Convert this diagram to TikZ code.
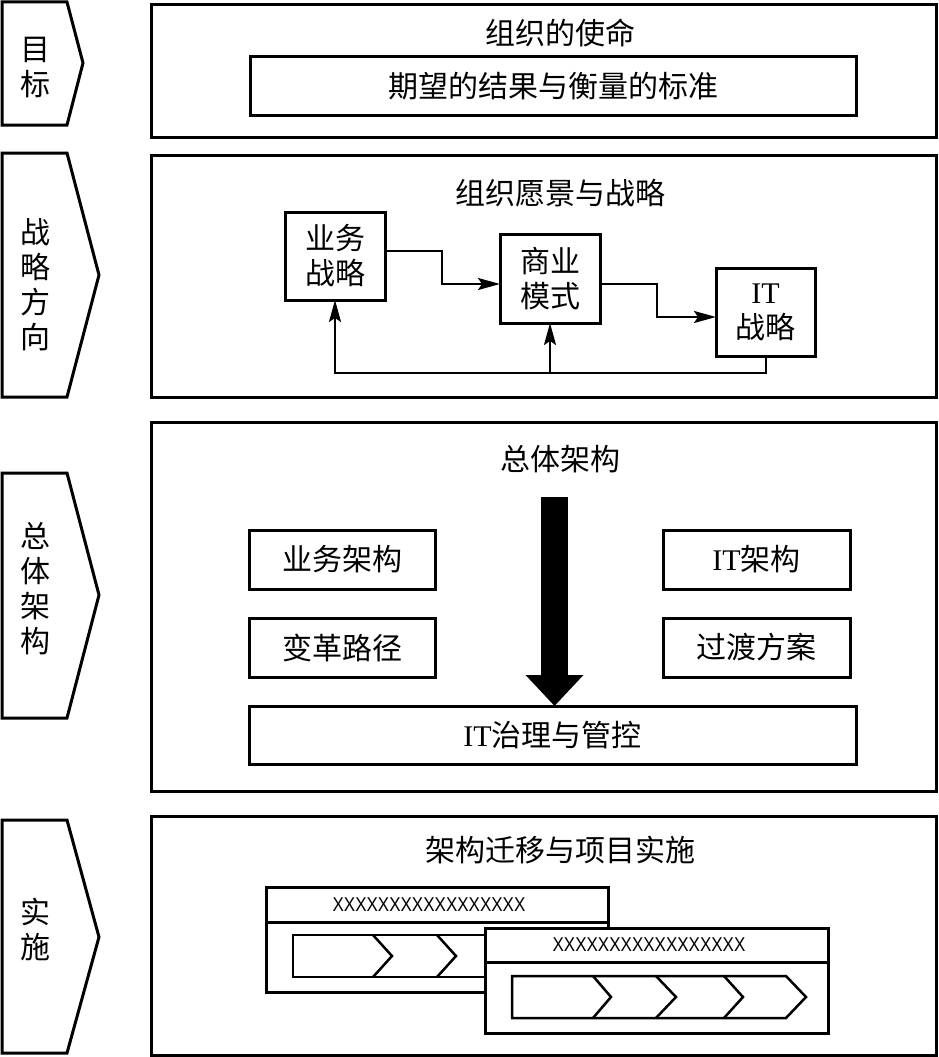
\documentclass[tikz,border=0pt]{standalone}
\usepackage{fontspec}
\setmainfont{Liberation Serif}
\newfontfamily\cjk{Noto Sans CJK SC}
\newfontfamily\xfont[FakeStretch=0.85]{Liberation Sans}
\usetikzlibrary{arrows.meta}
\begin{document}
\begin{tikzpicture}[x=1pt,y=-1pt,
  frame/.style={draw, line width=3pt, inner sep=0pt, outer sep=0pt},
  chev/.style={draw, line width=3pt, line join=miter},
  lbl/.style={font=\cjk\fontsize{30}{35}\selectfont, align=center, inner sep=0pt},
  txt/.style={font=\cjk\fontsize{30}{35}\selectfont, inner sep=0pt},
  xtxt/.style={font=\xfont\fontsize{20}{20}\selectfont, inner sep=0pt},
  conn/.style={line width=2pt, -{Stealth[length=22pt,width=12pt,inset=4pt]}},
  bar/.style={draw, line width=2.5pt, line join=miter},
  ]
\useasboundingbox (0,0) rectangle (938,1057);
\fill[white] (0,0) rectangle (938,1057);

% ---------- left chevrons ----------
\draw[chev] (2,2) -- (67,2) -- (83,63) -- (67,125) -- (2,125) -- cycle;
\node[lbl] (c1) at (35,68) {目\\标};
\draw[chev] (2,153) -- (67,153) -- (99,275) -- (67,397) -- (2,397) -- cycle;
\node[lbl] (c2) at (35,285) {战\\略\\方\\向};
\draw[chev] (2,473) -- (67,473) -- (99,595) -- (67,718) -- (2,718) -- cycle;
\node[lbl] (c3) at (35,589) {总\\体\\架\\构};
\draw[chev] (2,820) -- (67,820) -- (99,937) -- (67,1053) -- (2,1053) -- cycle;
\node[lbl] (c4) at (35,929) {实\\施};

% ---------- panel 1 ----------
\node[frame, minimum width=785, minimum height=132, anchor=north west] (p1) at (151,5) {};
\node[txt] (t1) at (560,33) {组织的使命};
\node[frame, txt, minimum width=606, minimum height=58, anchor=north west] (g1) at (250,57) {期望的结果与衡量的标准};

% ---------- panel 2 ----------
\node[frame, minimum width=785, minimum height=242, anchor=north west] (p2) at (151,155) {};
\node[txt] (t2) at (560,193) {组织愿景与战略};
\node[frame, lbl, minimum width=100, minimum height=88] (yw) at (335,256) {业务\\战略};
\node[frame, lbl, minimum width=100, minimum height=89] (sy) at (550,278.5) {商业\\模式};
\node[frame, lbl, minimum width=99, minimum height=88] (it) at (765.5,312) {{\rmfamily IT}\\战略};
\draw[conn] ([yshift=5pt]yw.east) -- ++(57,0) |- ([yshift=-5.5pt]sy.west);
\draw[conn] ([yshift=-5.5pt]sy.east) -- ++(57,0) |- ([yshift=-5pt]it.west);
\coordinate (fb) at (550,373);
\draw[conn] (it.south) |- (fb) -| (yw.south);
\draw[conn] (fb) -- (sy.south);

% ---------- panel 3 ----------
\node[frame, minimum width=785, minimum height=369, anchor=north west] (p3) at (151,422) {};
\node[txt] (t3) at (560,459) {总体架构};
\node[frame, txt, minimum width=186, minimum height=59] (ba) at (342,559.5) {业务架构};
\node[frame, txt, minimum width=187, minimum height=59] (ia) at (756.5,559.5) {{\rmfamily IT}架构};
\node[frame, txt, minimum width=186, minimum height=59] (bg) at (342,647.5) {变革路径};
\node[frame, txt, minimum width=187, minimum height=59] (gd) at (756.5,647.5) {过渡方案};
\node[frame, txt, minimum width=607, minimum height=58] (gov) at (552.5,735) {{\rmfamily IT}治理与管控};
\coordinate (btop) at (554.5,497);
\draw[line width=27pt, -{Triangle[length=31pt,width=56pt]}] (btop) -- (btop |- gov.north);

% ---------- panel 4 ----------
\node[frame, minimum width=785, minimum height=239, anchor=north west] (p4) at (151,816) {};
\node[txt] (t4) at (560,850) {架构迁移与项目实施};
% project 1
\node[frame, minimum width=342, minimum height=105, anchor=north west] (pj1) at (266,887) {};
\draw[line width=3pt] (266,922) -- (608,922);
\node[xtxt] (x1) at (429,905) {XXXXXXXXXXXXXXXXX};
\draw[bar] (293,935) rectangle (600,977);
\draw[bar] (373,935) -- (392,956) -- (373,977);
\draw[bar] (437,935) -- (456,956) -- (437,977);
% project 2
\node[frame, fill=white, minimum width=343, minimum height=105, anchor=north west] (pj2) at (485,928) {};
\draw[line width=3pt] (485,962) -- (828,962);
\node[xtxt] (x2) at (649,945) {XXXXXXXXXXXXXXXXX};
\draw[bar] (512,976) -- (786,976) -- (806,997) -- (786,1018) -- (512,1018) -- cycle;
\draw[bar] (593,976) -- (611,997) -- (593,1018);
\draw[bar] (656,976) -- (676,997) -- (656,1018);
\draw[bar] (724,976) -- (743,997) -- (724,1018);
\end{tikzpicture}
\end{document}
